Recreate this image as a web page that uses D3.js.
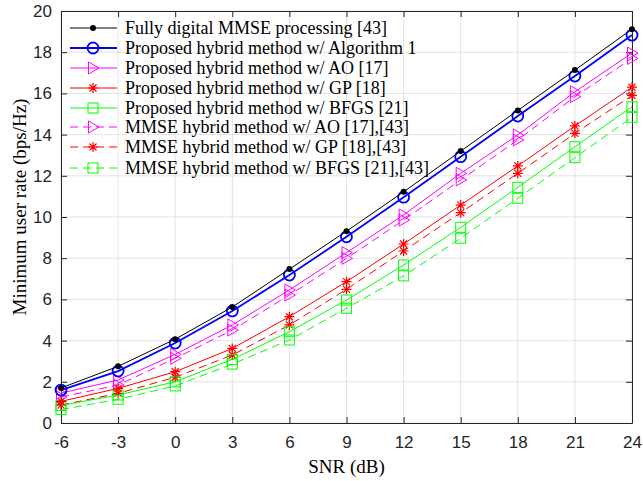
<!DOCTYPE html>
<html>
<head>
<meta charset="utf-8">
<script src="https://cdn.jsdelivr.net/npm/d3@7"></script>
<style>
body { margin: 0; background: #fff; }
.tick text { font-family: "Liberation Sans", Arial, sans-serif; font-size: 17px; fill: #262626; }
.lab { font-family: "Liberation Serif", "Times New Roman", serif; font-size: 19px; fill: #000; }
.leg { font-family: "Liberation Serif", "Times New Roman", serif; font-size: 18px; fill: #000; }
</style>
</head>
<body>
<svg width="643" height="481"></svg>
<script>
var snr = [-6, -3, 0, 3, 6, 9, 12, 15, 18, 21, 24];
var xTicks = [-6, -3, 0, 3, 6, 9, 12, 15, 18, 21, 24];
var yTicks = [0, 2, 4, 6, 8, 10, 12, 14, 16, 18, 20];

var fullyDigital = [1.7, 2.75, 4.07, 5.63, 7.47, 9.31, 11.22, 13.2, 15.17, 17.13, 19.12];
var propAlg1     = [1.6, 2.52, 3.88, 5.44, 7.18, 9.04, 10.96, 12.93, 14.9, 16.84, 18.83];
var propAO       = [1.45, 2.09, 3.33, 4.76, 6.46, 8.27, 10.1, 12.12, 13.98, 16.08, 17.96];
var propGP       = [1.05, 1.68, 2.49, 3.62, 5.16, 6.86, 8.69, 10.58, 12.48, 14.42, 16.3];
var propBFGS     = [0.85, 1.36, 2.0, 3.09, 4.43, 5.97, 7.67, 9.5, 11.44, 13.41, 15.35];
var mmseAO       = [1.26, 1.84, 3.14, 4.51, 6.21, 7.99, 9.85, 11.8, 13.74, 15.84, 17.7];
var mmseGP       = [0.87, 1.44, 2.22, 3.3, 4.76, 6.49, 8.35, 10.21, 12.12, 14.06, 15.9];
var mmseBFGS     = [0.65, 1.15, 1.8, 2.86, 4.03, 5.57, 7.14, 8.97, 10.91, 12.88, 14.84];

var series = [
  {name: "Fully digital MMSE processing [43]", vals: fullyDigital, color: "#000000", dash: null, marker: "dot", w: 1},
  {name: "Proposed hybrid method w/ Algorithm 1", vals: propAlg1, color: "#0000ff", dash: null, marker: "circle", w: 1.8},
  {name: "Proposed hybrid method w/ AO [17]", vals: propAO, color: "#ff00ff", dash: null, marker: "tri", w: 1},
  {name: "Proposed hybrid method w/ GP [18]", vals: propGP, color: "#ff0000", dash: null, marker: "star", w: 1},
  {name: "Proposed hybrid method w/ BFGS [21]", vals: propBFGS, color: "#00ff00", dash: null, marker: "square", w: 1},
  {name: "MMSE hybrid method w/ AO [17],[43]", vals: mmseAO, color: "#ff00ff", dash: "8,5", marker: "tri", w: 1},
  {name: "MMSE hybrid method w/ GP [18],[43]", vals: mmseGP, color: "#ff0000", dash: "8,5", marker: "star", w: 1},
  {name: "MMSE hybrid method w/ BFGS [21],[43]", vals: mmseBFGS, color: "#00ff00", dash: "8,5", marker: "square", w: 1}
];
var legendY = [28, 48, 68, 88, 108, 127, 147, 168];

var margin = {top: 11, right: 11, bottom: 58, left: 61}
  , width = 643 - margin.left - margin.right
  , height = 481 - margin.top - margin.bottom;

var svg = d3.select("svg");
var g = svg.append("g").attr("transform", "translate(" + margin.left + "," + margin.top + ")");

var x = d3.scaleLinear().domain([-6, 24]).range([0, width]);
var y = d3.scaleLinear().domain([0, 20]).range([height, 0]);

// grid
g.append("g").selectAll("line").data(xTicks).enter().append("line")
  .attr("x1", function(d){ return x(d); }).attr("x2", function(d){ return x(d); })
  .attr("y1", 0).attr("y2", height)
  .attr("stroke", "#e3e3e3").attr("stroke-width", 1);
g.append("g").selectAll("line").data(yTicks).enter().append("line")
  .attr("y1", function(d){ return y(d); }).attr("y2", function(d){ return y(d); })
  .attr("x1", 0).attr("x2", width)
  .attr("stroke", "#e3e3e3").attr("stroke-width", 1);

// axes
function styleAxis(sel) {
  sel.select(".domain").attr("stroke", "#262626");
  sel.selectAll(".tick line").attr("stroke", "#262626");
}
var fmt = function(d){ return String(d); };
g.append("g").attr("transform", "translate(0," + height + ")")
  .call(d3.axisBottom(x).tickValues(xTicks).tickSizeInner(-6).tickSizeOuter(0).tickPadding(13).tickFormat(fmt))
  .call(styleAxis);
g.append("g")
  .call(d3.axisLeft(y).tickValues(yTicks).tickSizeInner(-6).tickSizeOuter(0).tickPadding(9).tickFormat(fmt))
  .call(styleAxis);
g.append("g")
  .call(d3.axisTop(x).tickValues(xTicks).tickSizeInner(-6).tickSizeOuter(0).tickFormat(""))
  .call(styleAxis);
g.append("g").attr("transform", "translate(" + width + ",0)")
  .call(d3.axisRight(y).tickValues(yTicks).tickSizeInner(-6).tickSizeOuter(0).tickFormat(""))
  .call(styleAxis);

function drawMarker(sel, s, cx, cy) {
  var c = s.color;
  if (s.marker === "dot") {
    sel.append("circle").attr("cx", cx).attr("cy", cy).attr("r", 3).attr("fill", c);
  } else if (s.marker === "circle") {
    sel.append("circle").attr("cx", cx).attr("cy", cy).attr("r", 5.5)
      .attr("fill", "none").attr("stroke", c).attr("stroke-width", 1.8);
  } else if (s.marker === "tri") {
    var r = 6;
    sel.append("path")
      .attr("d", "M" + (cx - r * 0.75) + "," + (cy - r) + "L" + (cx + r) + "," + cy + "L" + (cx - r * 0.75) + "," + (cy + r) + "Z")
      .attr("fill", "none").attr("stroke", c).attr("stroke-width", 1);
  } else if (s.marker === "star") {
    var a = 5;
    var p = "M" + (cx - a) + "," + cy + "L" + (cx + a) + "," + cy +
            "M" + cx + "," + (cy - a) + "L" + cx + "," + (cy + a) +
            "M" + (cx - a * 0.7) + "," + (cy - a * 0.7) + "L" + (cx + a * 0.7) + "," + (cy + a * 0.7) +
            "M" + (cx - a * 0.7) + "," + (cy + a * 0.7) + "L" + (cx + a * 0.7) + "," + (cy - a * 0.7);
    sel.append("path").attr("d", p).attr("stroke", c).attr("stroke-width", 1.2).attr("fill", "none");
  } else if (s.marker === "square") {
    var h = 5;
    sel.append("rect").attr("x", cx - h).attr("y", cy - h).attr("width", 2 * h).attr("height", 2 * h)
      .attr("fill", "none").attr("stroke", c).attr("stroke-width", 1);
  }
}

var line = d3.line()
  .x(function(d, i){ return x(snr[i]); })
  .y(function(d){ return y(d); });

var plot = g.append("g");
series.slice().reverse().forEach(function(s) {
  var sg = plot.append("g");
  sg.append("path").datum(s.vals)
    .attr("d", line)
    .attr("fill", "none")
    .attr("stroke", s.color)
    .attr("stroke-width", s.w)
    .attr("stroke-dasharray", s.dash);
  s.vals.forEach(function(v, i) {
    drawMarker(sg, s, x(snr[i]), y(v));
  });
});

// legend
var leg = svg.append("g");
series.forEach(function(s, i) {
  var ly = legendY[i];
  leg.append("line").attr("x1", 70).attr("x2", 117).attr("y1", ly).attr("y2", ly)
    .attr("stroke", s.color).attr("stroke-width", s.w).attr("stroke-dasharray", s.dash);
  drawMarker(leg, s, 93, ly);
  leg.append("text").attr("class", "leg").attr("x", 125).attr("y", ly + 6).text(s.name);
});

// axis labels
svg.append("text").attr("class", "lab").attr("text-anchor", "middle")
  .attr("x", margin.left + width / 2).attr("y", 473).text("SNR (dB)");
svg.append("text").attr("class", "lab").attr("text-anchor", "middle")
  .attr("transform", "translate(26,207) rotate(-90)")
  .text("Minimum user rate (bps/Hz)");
</script>
</body>
</html>
